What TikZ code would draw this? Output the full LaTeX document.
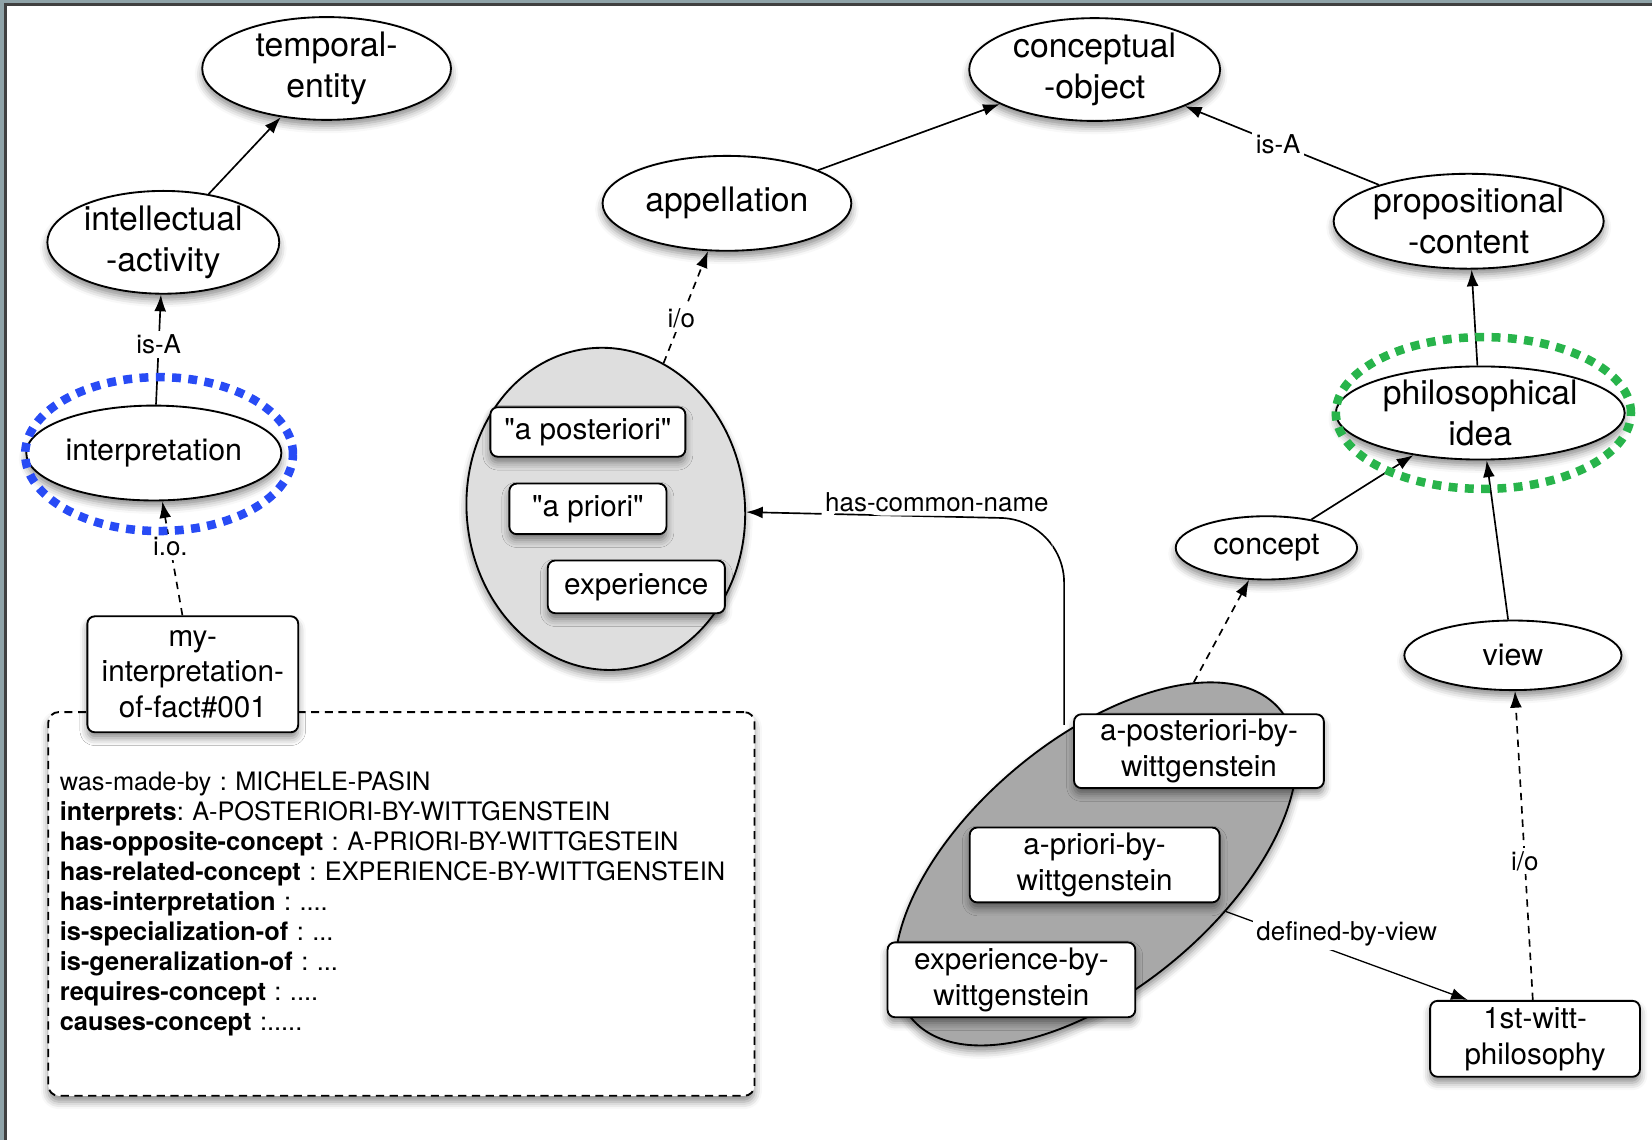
\documentclass[tikz,border=0pt]{standalone}
\usepackage{fontspec}
\setmainfont{TeX Gyre Heros}
\usepackage{tikz}
\usetikzlibrary{shapes.geometric,arrows,arrows.meta,shadows.blur}
\definecolor{framegrey}{RGB}{143,163,168}
\definecolor{ringblue}{RGB}{40,75,245}
\definecolor{ringgreen}{RGB}{40,180,75}
\definecolor{setlight}{RGB}{222,222,222}
\definecolor{setdark}{RGB}{168,168,168}
\tikzstyle{arrow} = [line width=0.45pt,->,>={Latex[length=4.5pt,width=3.2pt]}]
\tikzstyle{io} = [arrow,dash pattern=on 2pt off 1.6pt]
\tikzstyle{shade} = [blur shadow={shadow xshift=0pt,shadow yshift=-1.6pt,shadow blur radius=2pt,shadow opacity=45}]
\tikzstyle{cls} = [ellipse,draw,fill=white,line width=0.5pt,inner sep=0pt,align=center,shade]
\tikzstyle{inst} = [rectangle,rounded corners=2pt,draw,fill=white,line width=0.5pt,inner sep=0pt,align=center,shade,font=\fontsize{8}{9.7}\selectfont]
\tikzstyle{bigtxt} = [font=\fontsize{9.1}{11}\selectfont]
\tikzstyle{smalltxt} = [font=\fontsize{8.2}{9.7}\selectfont]
\tikzstyle{lbl} = [fill=white,inner sep=1pt,font=\fontsize{7}{8}\selectfont]
\tikzstyle{ring} = [ellipse,draw,line width=2.3pt,dash pattern=on 2.4pt off 2pt]
\tikzstyle{slotbox} = [rectangle,draw,fill=white,rounded corners=2.8pt,line width=0.5pt,dash pattern=on 2.2pt off 1.5pt,
  minimum width=6.70cm,minimum height=3.64cm,text width=6.48cm,inner xsep=0.11cm,align=left,
  font=\fontsize{6.85}{8.1}\selectfont,shade]
\frenchspacing

\begin{document}
\begin{tikzpicture}[x=0.01cm,y=-0.01cm]
\useasboundingbox (0,0) rectangle (1568,1082);
% window frame
\fill[framegrey] (0,0) rectangle (1568,4);
\fill[framegrey] (0,0) rectangle (5,1082);
\draw[line width=0.7pt,black!75] (5,1082) -- (5,4) -- (1568,4);

% slots of the interpretation
\node[slotbox] (slots) at (381,858) {was-made-by : MICHELE-PASIN\\
\textbf{interprets}: A-POSTERIORI-BY-WITTGENSTEIN\\
\textbf{has-opposite-concept} : A-PRIORI-BY-WITTGESTEIN\\
\textbf{has-related-concept} : EXPERIENCE-BY-WITTGENSTEIN\\
\textbf{has-interpretation} : ....\\
\textbf{is-specialization-of} : ...\\
\textbf{is-generalization-of} : ...\\
\textbf{requires-concept} : ....\\
\textbf{causes-concept} :.....};
\node[inst,minimum width=2.00cm,minimum height=1.10cm] (myinterp) at (183,640) {my-\\interpretation-\\of-fact\#001};

% classes
\node[cls,bigtxt,minimum width=2.36cm,minimum height=0.88cm] (temporal) at (310,65) {temporal-\\entity};
\node[cls,bigtxt,minimum width=2.20cm,minimum height=0.90cm] (intel) at (155,230) {intellectual\\-activity};
\node[cls,smalltxt,minimum width=2.42cm,minimum height=0.90cm] (interp) at (146,430) {interpretation};
\node[cls,bigtxt,minimum width=2.36cm,minimum height=0.90cm] (appel) at (690,193) {appellation};
\node[cls,bigtxt,minimum width=2.38cm,minimum height=0.92cm] (concobj) at (1039,66) {conceptual\\-object};
\node[cls,bigtxt,minimum width=2.54cm,minimum height=0.90cm] (propos) at (1394,210) {propositional\\-content};
\node[cls,bigtxt,minimum width=2.74cm,minimum height=0.86cm] (philo) at (1405,392) {philosophical\\idea};
\node[cls,smalltxt,minimum width=1.72cm,minimum height=0.60cm] (concept) at (1202,520) {concept};
\node[cls,smalltxt,minimum width=2.06cm,minimum height=0.66cm] (view) at (1436,622) {view};

% sets of instances
\node[cls,fill=setlight,minimum width=2.64cm,minimum height=3.06cm,rotate=5.6] (common) at (575,483) {};
\node[inst,minimum width=1.85cm,minimum height=0.47cm] (apost) at (558,410) {\textquotedbl a posteriori\textquotedbl};
\node[inst,minimum width=1.49cm,minimum height=0.48cm] (aprio) at (558,483) {\textquotedbl a priori\textquotedbl};
\node[inst,minimum width=1.68cm,minimum height=0.50cm] (exper) at (604,557) {experience};

\node[cls,fill=setdark,minimum width=4.56cm,minimum height=2.36cm,rotate=40] (wittset) at (1040,820) {};
\node[inst,minimum width=2.37cm,minimum height=0.70cm] (apostw) at (1138,713) {a-posteriori-by-\\wittgenstein};
\node[inst,minimum width=2.37cm,minimum height=0.71cm] (apriow) at (1039,821) {a-priori-by-\\wittgenstein};
\node[inst,minimum width=2.35cm,minimum height=0.71cm] (experw) at (960,930) {experience-by-\\wittgenstein};

\node[inst,minimum width=1.99cm,minimum height=0.72cm] (witt1) at (1457,986) {1st-witt-\\philosophy};

% links
\draw[arrow] (intel) -- (temporal);
\draw[arrow] (interp) -- node[lbl,pos=0.55]{is-A} (intel);
\draw[io] (myinterp) -- node[lbl,pos=0.6]{i.o.} (interp);
\draw[arrow] (appel) -- (concobj);
\draw[arrow] (propos) -- node[lbl,pos=0.52]{is-A} (concobj);
\draw[io] (common) -- node[lbl,pos=0.4]{i/o} (appel);
\draw[arrow] (philo) -- (propos);
\draw[arrow] (concept) -- (philo);
\draw[arrow] (view) -- (philo);
\draw[io] (wittset) -- (concept);
\draw[io] (witt1) -- node[lbl,pos=0.45]{i/o} (view);
\draw[arrow,line width=0.35pt] (wittset) -- node[lbl,pos=0.5,yshift=6pt]{defined-by-view} (witt1.150);
\coordinate (hcn) at (1010,688);
\draw[arrow,rounded corners=0.6cm] (hcn) -- (1010,493) -- node[lbl,above,pos=0.4]{has-common-name} (common);

% highlights
\node[ring,ringblue,minimum width=2.54cm,minimum height=1.46cm] (markA) at (151,431) {};
\node[ring,ringgreen,minimum width=2.80cm,minimum height=1.44cm] (markB) at (1408,392) {};
\end{tikzpicture}
\end{document}
